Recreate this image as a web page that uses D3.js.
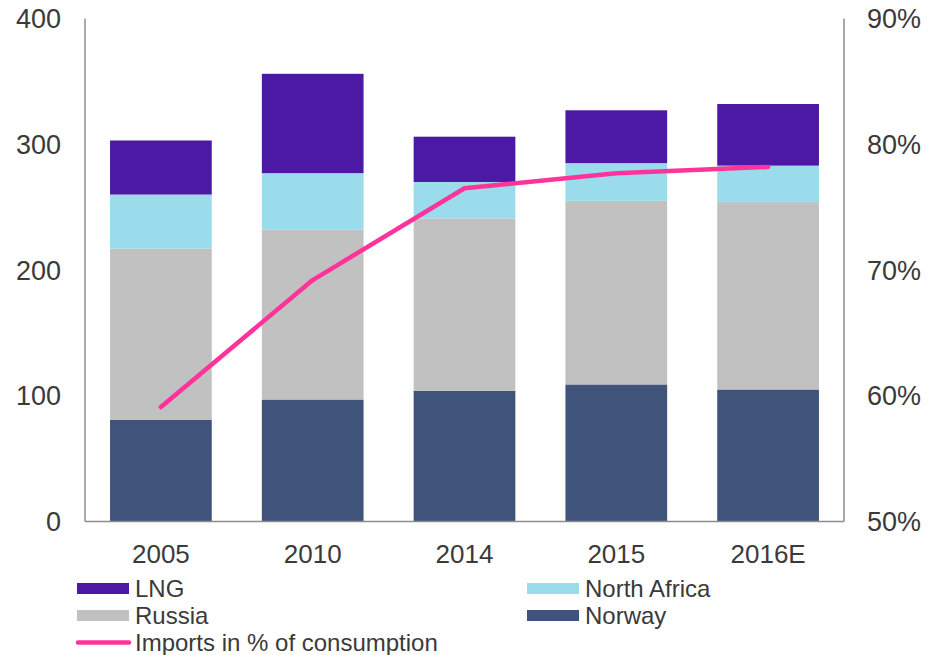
<!DOCTYPE html>
<html>
<head>
<meta charset="utf-8">
<script src="https://cdn.jsdelivr.net/npm/d3@7"></script>
<style>
  body { margin: 0; background: #fff; }
  svg text { font-family: "Liberation Sans", Arial, sans-serif; fill: #3a3a3a; }
</style>
</head>
<body>
<div id="chart"></div>
<script>
// Data
var years = ['2005', '2010', '2014', '2015', '2016E'];
var norway = [81, 97, 104, 109, 105];
var russia = [136, 135, 137, 146, 149];
var northAfrica = [43, 45, 29, 30, 29];
var lng = [43, 79, 36, 42, 49];
var importShare = [59.1, 69.2, 76.5, 77.7, 78.2];
var leftTicks = [0, 100, 200, 300, 400];
var rightTicks = [50, 60, 70, 80, 90];

var seriesNames = ['Norway', 'Russia', 'North Africa', 'LNG'];
var seriesColors = ['#3f537b', '#c1c1c1', '#9bdcec', '#4b19a3'];
var lineColor = '#ff3399';

var width = 934,
  height = 655,
  margin = { top: 18.5, right: 90, bottom: 133.5, left: 85 };
var plotW = width - margin.left - margin.right,
  plotH = height - margin.top - margin.bottom;

var svg = d3
  .select('#chart')
  .append('svg')
  .attr('width', width)
  .attr('height', height);

var g = svg
  .append('g')
  .attr('transform', 'translate(' + margin.left + ',' + margin.top + ')');

var x = d3.scaleBand().domain(years).range([0, plotW]).paddingInner(0.33).paddingOuter(0.165);
var y = d3.scaleLinear().domain([0, 400]).range([plotH, 0]);
var y2 = d3.scaleLinear().domain([50, 90]).range([plotH, 0]);

// build rows for the stack
var rows = years.map(function (yr, i) {
  return {
    year: yr,
    'Norway': norway[i],
    'Russia': russia[i],
    'North Africa': northAfrica[i],
    'LNG': lng[i]
  };
});
var stacked = d3.stack().keys(seriesNames)(rows);

g.selectAll('g.layer')
  .data(stacked)
  .enter()
  .append('g')
  .attr('class', 'layer')
  .attr('fill', function (d, i) {
    return seriesColors[i];
  })
  .selectAll('rect')
  .data(function (d) {
    return d;
  })
  .enter()
  .append('rect')
  .attr('x', function (d) {
    return x(d.data.year);
  })
  .attr('width', x.bandwidth())
  .attr('y', function (d) {
    return y(d[1]);
  })
  .attr('height', function (d) {
    return y(d[0]) - y(d[1]);
  });

// axes (lines only, no ticks)
var axisColor = '#8c8c8c';
g.append('line').attr('x1', 0).attr('x2', 0).attr('y1', 0).attr('y2', plotH)
  .attr('stroke', axisColor).attr('stroke-width', 1.5);
g.append('line').attr('x1', plotW).attr('x2', plotW).attr('y1', 0).attr('y2', plotH)
  .attr('stroke', axisColor).attr('stroke-width', 1.5);
g.append('line').attr('x1', 0).attr('x2', plotW).attr('y1', plotH).attr('y2', plotH)
  .attr('stroke', axisColor).attr('stroke-width', 1.5);

// left tick labels
g.selectAll('text.yl')
  .data(leftTicks)
  .enter()
  .append('text')
  .attr('class', 'yl')
  .attr('x', -24)
  .attr('y', function (d) {
    return y(d);
  })
  .attr('dy', '0.36em')
  .attr('text-anchor', 'end')
  .style('font-size', '27px')
  .text(function (d) {
    return d;
  });

// right tick labels
g.selectAll('text.yr')
  .data(rightTicks)
  .enter()
  .append('text')
  .attr('class', 'yr')
  .attr('x', plotW + 23)
  .attr('y', function (d) {
    return y2(d);
  })
  .attr('dy', '0.36em')
  .attr('text-anchor', 'start')
  .style('font-size', '27px')
  .text(function (d) {
    return d + '%';
  });

// x labels
g.selectAll('text.xl')
  .data(years)
  .enter()
  .append('text')
  .attr('class', 'xl')
  .attr('x', function (d) {
    return x(d) + x.bandwidth() / 2;
  })
  .attr('y', plotH + 32)
  .attr('dy', '0.36em')
  .attr('text-anchor', 'middle')
  .style('font-size', '26px')
  .text(function (d) {
    return d;
  });

// import share line
g.append('path')
  .datum(importShare)
  .attr('fill', 'none')
  .attr('stroke', lineColor)
  .attr('stroke-width', 4.5)
  .attr('stroke-linecap', 'round')
  .attr('stroke-linejoin', 'round')
  .attr(
    'd',
    d3
      .line()
      .x(function (d, i) {
        return x(years[i]) + x.bandwidth() / 2;
      })
      .y(function (d) {
        return y2(d);
      })
  );

// legend
var legendItems = [
  { name: 'LNG', color: seriesColors[3], type: 'rect', col: 0, row: 0 },
  { name: 'North Africa', color: seriesColors[2], type: 'rect', col: 1, row: 0 },
  { name: 'Russia', color: seriesColors[1], type: 'rect', col: 0, row: 1 },
  { name: 'Norway', color: seriesColors[0], type: 'rect', col: 1, row: 1 },
  { name: 'Imports in % of consumption', color: lineColor, type: 'line', col: 0, row: 2 }
];
var legend = svg
  .append('g')
  .selectAll('g')
  .data(legendItems)
  .enter()
  .append('g')
  .attr('transform', function (d) {
    return 'translate(' + (d.col ? 527 : 77) + ',' + (588.5 + d.row * 27) + ')';
  });

legend
  .filter(function (d) {
    return d.type === 'rect';
  })
  .append('rect')
  .attr('x', 0)
  .attr('y', -5.5)
  .attr('width', 52)
  .attr('height', 11)
  .attr('fill', function (d) {
    return d.color;
  });

legend
  .filter(function (d) {
    return d.type === 'line';
  })
  .append('line')
  .attr('x1', 1)
  .attr('x2', 52)
  .attr('y1', 0)
  .attr('y2', 0)
  .attr('stroke', lineColor)
  .attr('stroke-width', 4.5)
  .attr('stroke-linecap', 'round');

legend
  .append('text')
  .attr('x', 58)
  .attr('y', 0)
  .attr('dy', '0.36em')
  .style('font-size', '24px')
  .text(function (d) {
    return d.name;
  });
</script>
</body>
</html>
